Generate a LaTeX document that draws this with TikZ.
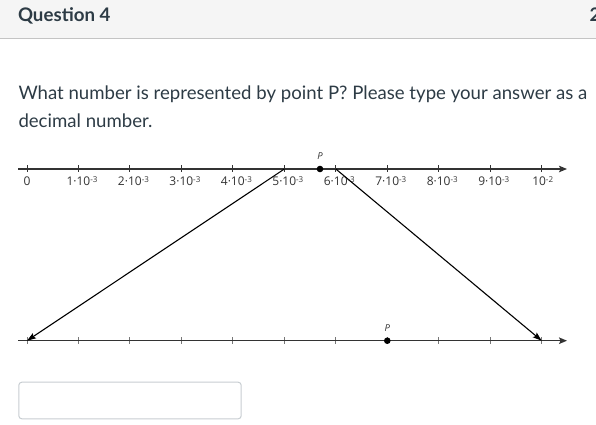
\documentclass[tikz,border=0pt]{standalone}
\usepackage{fontspec}
\setmainfont{Lato}
\newfontfamily\axisfont{Open Sans}
\usetikzlibrary{positioning,arrows.meta}

\definecolor{canvastext}{HTML}{2D3B45}
\definecolor{headbg}{HTML}{F5F5F5}
\definecolor{headrule}{HTML}{C4C4C4}
\definecolor{boxrule}{HTML}{C7CDD1}
\definecolor{axisgray}{HTML}{333333}
\definecolor{tickgray}{HTML}{777777}

% k.10^e as the number line prints it
\newcommand{\tenpow}[2]{#1\raisebox{3.6pt}{\fontsize{8}{8}\selectfont #2}}

\tikzset{
  axisline/.style={draw=axisgray, line width=1.3pt, -{Stealth[length=8pt, width=6.5pt, inset=1.5pt]}},
  mapline/.style={draw=black, line width=1.1pt, -{Stealth[length=9pt, width=6pt, inset=1.5pt]}},
  ticklabel/.style={font=\axisfont\fontsize{12}{14}\selectfont, text=axisgray, anchor=base, inner sep=0pt},
  pointlabel/.style={font=\axisfont\itshape\fontsize{9.5}{11}\selectfont, text=axisgray, inner sep=0pt},
  pointdot/.style={circle, fill=black, inner sep=0pt, minimum size=6.6pt},
  asktext/.style={anchor=base west, inner sep=0pt, text=canvastext, font=\fontsize{18.6}{28}\selectfont}
}

\begin{document}
\begin{tikzpicture}[x=1pt, y=-1pt]
  \useasboundingbox (0,0) rectangle (596,424);

  % Header strip
  \fill[headbg] (0,0) rectangle (596,38);
  \draw[headrule, line width=1.2pt] (0,38.3) -- (596,38.3);
  \node[anchor=base west, inner sep=0pt, text=canvastext, font=\bfseries\fontsize{18.7}{22}\selectfont] (title) at (17.8,21.7) {Question 4};
  \node[anchor=base west, inner sep=0pt, text=canvastext, font=\bfseries\fontsize{18.7}{22}\selectfont] (points) at (589.5,21.7) {2};

  % Question text
  \node[asktext] (ask) at (18.3,99.5) {What number is represented by point P? Please type your answer as a};
  \node[asktext] (ask2) at (18.3,127.5) {decimal number.};

  % Tick positions on both lines
  \foreach \i in {0,...,10} {
    \coordinate (top\i) at ({27+51.47*\i},169);
    \coordinate (bot\i) at ({27+51.47*\i},340.7);
    \draw[axisgray, line width=1pt] ([yshift=3.6pt]top\i) -- ([yshift=-2.6pt]top\i);
    \draw[tickgray, line width=1pt] ([yshift=3.6pt]bot\i) -- ([yshift=-3.6pt]bot\i);
  }

  % Number lines
  \coordinate (topstart) at (18,169);
  \coordinate (topend) at (567,169);
  \coordinate (botstart) at (18,340.7);
  \coordinate (botend) at (567,340.7);
  \draw[axisline] (topstart) -- (topend);
  \draw[axisline] (botstart) -- (botend);

  % Labels under the top line
  \node[ticklabel] (lab0) at ([yshift=-16.7pt]top0) {0};
  \node[ticklabel] (lab1) at ([xshift=3.5pt, yshift=-16.7pt]top1) {\tenpow{1·10}{-3}};
  \node[ticklabel] (lab2) at ([xshift=3.5pt, yshift=-16.7pt]top2) {\tenpow{2·10}{-3}};
  \node[ticklabel] (lab3) at ([xshift=3.5pt, yshift=-16.7pt]top3) {\tenpow{3·10}{-3}};
  \node[ticklabel] (lab4) at ([xshift=3.5pt, yshift=-16.7pt]top4) {\tenpow{4·10}{-3}};
  \node[ticklabel] (lab5) at ([xshift=3.5pt, yshift=-16.7pt]top5) {\tenpow{5·10}{-3}};
  \node[ticklabel] (lab6) at ([xshift=3.5pt, yshift=-16.7pt]top6) {\tenpow{6·10}{-3}};
  \node[ticklabel] (lab7) at ([xshift=3.5pt, yshift=-16.7pt]top7) {\tenpow{7·10}{-3}};
  \node[ticklabel] (lab8) at ([xshift=3.5pt, yshift=-16.7pt]top8) {\tenpow{8·10}{-3}};
  \node[ticklabel] (lab9) at ([xshift=3.5pt, yshift=-16.7pt]top9) {\tenpow{9·10}{-3}};
  \node[ticklabel] (lab10) at ([xshift=1pt, yshift=-16.7pt]top10) {\tenpow{10}{-2}};

  % Points P
  \node[pointdot] (ptop) at (320,169) {};
  \node[pointdot] (pbot) at (bot7) {};
  \node[pointlabel, above=6pt of ptop] (ptoplab) {P};
  \node[pointlabel, above=6pt of pbot] (pbotlab) {P};

  % Stretch from top interval onto bottom line
  \draw[mapline] (top5) -- (bot0);
  \draw[mapline] (top6) -- (bot10);

  % Answer box
  \node[draw=boxrule, line width=1pt, rounded corners=3pt, minimum width=222.4pt, minimum height=36.6pt, anchor=north west, inner sep=0pt] (answer) at (18.3,381.7) {};
\end{tikzpicture}
\end{document}
